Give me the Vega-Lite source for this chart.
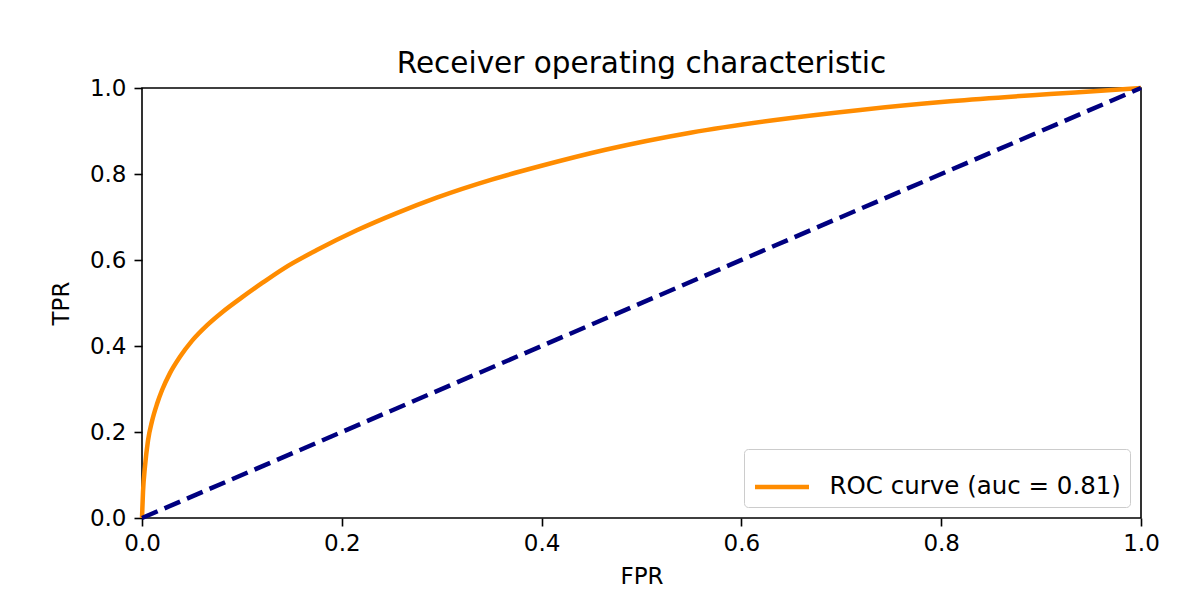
{
  "$schema": "https://vega.github.io/schema/vega-lite/v6.json",
  "width": 999,
  "height": 430,
  "autosize": {"type": "none"},
  "padding": {"left": 142, "top": 88, "right": 53, "bottom": 97},
  "background": "white",
  "title": {
    "text": "Receiver operating characteristic",
    "font": "DejaVu Sans",
    "fontSize": 29.5,
    "fontWeight": "normal",
    "color": "black",
    "frame": "group",
    "offset": 15,
    "baseline": "alphabetic",
    "dy": 40
  },
  "config": {
    "view": {"stroke": "black", "strokeWidth": 1.6},
    "axis": {
      "domain": false,
      "grid": false,
      "ticks": true,
      "tickColor": "black",
      "tickSize": 8,
      "tickWidth": 1.6,
      "labelFont": "DejaVu Sans",
      "labelFontSize": 23,
      "labelColor": "black",
      "labelFlush": false,
      "labelOverlap": false,
      "titleFont": "DejaVu Sans",
      "titleFontSize": 23,
      "titleFontWeight": "normal",
      "titleColor": "black"
    },
    "axisX": {"titlePadding": 10, "labelPadding": 6},
    "axisY": {"titlePadding": 16, "labelPadding": 8},
    "legend": {
      "orient": "bottom-right",
      "offset": 11.5,
      "symbolType": "stroke",
      "symbolSize": 2916,
      "symbolStrokeWidth": 4.5,
      "labelFont": "DejaVu Sans",
      "labelFontSize": 24.5,
      "labelColor": "black",
      "labelLimit": 0,
      "labelOffset": 18,
      "padding": 8.5,
      "strokeColor": "#cccccc",
      "fillColor": "rgba(255,255,255,0.8)",
      "cornerRadius": 4
    }
  },
  "datasets": {
    "roc": [
      {"fpr": 0.0, "tpr": 0.0},
      {"fpr": 0.001, "tpr": 0.06},
      {"fpr": 0.003, "tpr": 0.12},
      {"fpr": 0.006, "tpr": 0.18},
      {"fpr": 0.010, "tpr": 0.225},
      {"fpr": 0.015, "tpr": 0.265},
      {"fpr": 0.020, "tpr": 0.297},
      {"fpr": 0.028, "tpr": 0.337},
      {"fpr": 0.038, "tpr": 0.375},
      {"fpr": 0.050, "tpr": 0.412},
      {"fpr": 0.065, "tpr": 0.448},
      {"fpr": 0.080, "tpr": 0.478},
      {"fpr": 0.100, "tpr": 0.513},
      {"fpr": 0.120, "tpr": 0.546},
      {"fpr": 0.141, "tpr": 0.579},
      {"fpr": 0.175, "tpr": 0.623},
      {"fpr": 0.215, "tpr": 0.669},
      {"fpr": 0.255, "tpr": 0.709},
      {"fpr": 0.295, "tpr": 0.745},
      {"fpr": 0.35, "tpr": 0.787},
      {"fpr": 0.398, "tpr": 0.818},
      {"fpr": 0.465, "tpr": 0.857},
      {"fpr": 0.549, "tpr": 0.896},
      {"fpr": 0.632, "tpr": 0.925},
      {"fpr": 0.719, "tpr": 0.949},
      {"fpr": 0.809, "tpr": 0.969},
      {"fpr": 0.909, "tpr": 0.986},
      {"fpr": 0.96, "tpr": 0.9935},
      {"fpr": 1.0, "tpr": 1.0}
    ],
    "chance": [
      {"fpr": 0.0, "tpr": 0.0},
      {"fpr": 1.0, "tpr": 1.0}
    ]
  },
  "layer": [
    {
      "data": {"name": "roc"},
      "mark": {"type": "line", "strokeWidth": 4.5, "interpolate": "monotone"},
      "encoding": {
        "x": {
          "field": "fpr",
          "type": "quantitative",
          "title": "FPR",
          "scale": {"domain": [0, 1], "nice": false},
          "axis": {"values": [0, 0.2, 0.4, 0.6, 0.8, 1.0], "format": ".1f"}
        },
        "y": {
          "field": "tpr",
          "type": "quantitative",
          "title": "TPR",
          "scale": {"domain": [0, 1], "nice": false},
          "axis": {"values": [0, 0.2, 0.4, 0.6, 0.8, 1.0], "format": ".1f"}
        },
        "color": {
          "datum": "ROC curve (auc = 0.81)",
          "type": "nominal",
          "scale": {"domain": ["ROC curve (auc = 0.81)"], "range": ["#ff8c00"]},
          "legend": {"title": null}
        }
      }
    },
    {
      "data": {"name": "chance"},
      "mark": {"type": "line", "color": "#000080", "strokeWidth": 4.5, "strokeDash": [17, 7.5]},
      "encoding": {
        "x": {"field": "fpr", "type": "quantitative"},
        "y": {"field": "tpr", "type": "quantitative"}
      }
    }
  ]
}
